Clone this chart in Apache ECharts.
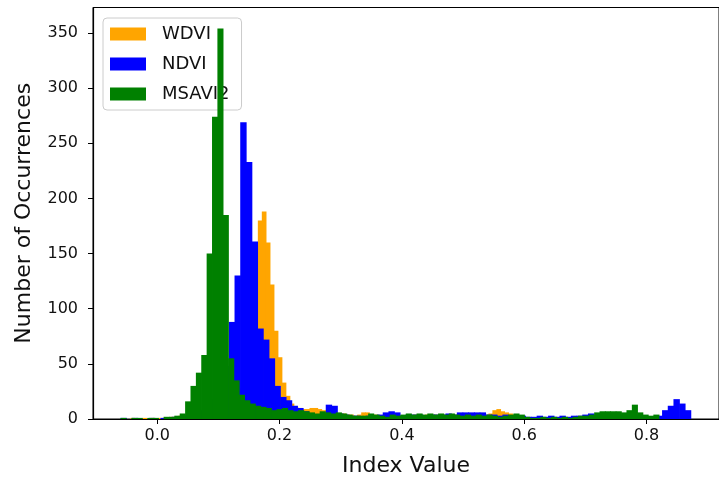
<!DOCTYPE html>
<html>
<head>
<meta charset="utf-8">
<script src="https://cdn.jsdelivr.net/npm/echarts@6/dist/echarts.min.js"></script>
<style>html,body{margin:0;padding:0;background:#fff}#c{width:719px;height:487px}</style>
</head>
<body>
<div id="c"></div>
<script>
// Histogram bin ranges (100 bins each) and counts
const seriesNames = ['WDVI', 'NDVI', 'MSAVI2'];
const seriesColors = ['#FFA500', '#0000FF', '#008000'];

const wdviRange = [-0.05, 0.60];
const wdviCounts = [
  0,1,0,0,1,0,1,0,1,1, 1,2,2,3,3,4,5,5,6,7,
  8,9,10,12,13,15,18,22,28,36, 48,65,120,180,188,160,122,80,56,33,
  21,14,11,10,9,9,10,10,9,8, 7,6,5,4,5,4,4,3,4,6,
  6,4,4,3,3,3,3,2,3,3, 3,3,4,3,3,4,3,4,3,4,
  3,4,4,3,4,4,3,4,4,3, 4,5,8,9,7,6,5,4,3,2
];

const ndviRange = [-0.06, 0.872];
const ndviCounts = [
  1,0,1,0,0,1,0,1,1,2, 2,3,4,6,8,12,18,28,48,88,
  130,269,233,161,82,72,55,30,20,17, 12,10,7,5,4,5,13,12,5,4,
  3,3,2,3,3,4,6,7,6,3, 4,4,4,3,4,4,4,5,4,6,
  6,6,6,6,4,4,3,4,3,3, 3,2,2,3,2,3,2,3,2,3,
  3,4,5,4,5,5,5,4,5,5, 4,3,2,2,3,8,12,18,14,8
];

const msaviRange = [-0.06, 0.82];
const msaviCounts = [
  1,0,1,1,0,1,1,0,2,2, 3,5,16,30,42,58,150,274,354,185,
  55,35,22,17,14,12,11,10,8,9, 10,8,7,8,7,6,5,7,6,5,
  6,5,4,3,3,3,5,4,3,2, 4,3,4,5,4,5,4,5,4,5,
  4,5,4,3,4,3,4,3,4,3, 2,3,4,5,4,2,1,1,2,1,
  2,1,2,1,2,3,3,4,6,7, 7,7,7,6,8,13,6,4,3,4
];

const xTicks = [0.0, 0.2, 0.4, 0.6, 0.8];
const yTicks = [0, 50, 100, 150, 200, 250, 300, 350];

function toBins(range, counts) {
  const w = (range[1] - range[0]) / counts.length;
  return counts.map((c, i) => [range[0] + i * w, range[0] + (i + 1) * w, c]);
}

function renderItem(params, api) {
  const x0 = api.value(0), x1 = api.value(1), y = api.value(2);
  const p0 = api.coord([x0, y]);
  const p1 = api.coord([x1, 0]);
  return {
    type: 'rect',
    shape: { x: p0[0], y: p0[1], width: p1[0] - p0[0] + 0.7, height: p1[1] - p0[1] },
    style: api.style()
  };
}

const allBins = [toBins(wdviRange, wdviCounts), toBins(ndviRange, ndviCounts), toBins(msaviRange, msaviCounts)];
const FONT = 'DejaVu Sans';

const chart = echarts.init(document.getElementById('c'), null, { renderer: 'canvas' });
chart.setOption({
  animation: false,
  backgroundColor: '#fff',
  grid: { left: 93, top: 7.5, width: 632, height: 411.5, show: true, borderColor: '#000', borderWidth: 1, backgroundColor: 'transparent' },
  legend: {
    data: seriesNames,
    orient: 'vertical',
    left: 103, top: 18,
    icon: 'rect',
    itemWidth: 36, itemHeight: 13,
    itemGap: 12,
    padding: [7, 12, 7, 7],
    backgroundColor: 'rgba(255,255,255,0.8)',
    borderColor: '#cccccc', borderWidth: 1, borderRadius: 4,
    itemStyle: { borderWidth: 0 },
    textStyle: { fontFamily: FONT, fontSize: 18, color: '#111', padding: [0, 0, 0, 11], lineHeight: 18 }
  },
  xAxis: {
    type: 'value', min: -0.105, max: 0.9185,
    name: 'Index Value', nameLocation: 'middle', nameGap: 36,
    nameTextStyle: { fontFamily: FONT, fontSize: 22, color: '#111' },
    axisLine: { show: true, onZero: false, lineStyle: { color: '#000', width: 1.2 } },
    axisTick: { show: true, length: 5, lineStyle: { color: '#000' }, customValues: xTicks },
    axisLabel: { fontFamily: FONT, fontSize: 16, color: '#111', margin: 9, customValues: xTicks,
      formatter: v => v.toFixed(1) },
    splitLine: { show: false }
  },
  yAxis: {
    type: 'value', min: 0, max: 373,
    name: 'Number of Occurrences', nameLocation: 'middle', nameGap: 58,
    nameTextStyle: { fontFamily: FONT, fontSize: 22, color: '#111' },
    axisLine: { show: true, onZero: false, lineStyle: { color: '#000', width: 1.2 } },
    axisTick: { show: true, length: 5, lineStyle: { color: '#000' }, customValues: yTicks },
    axisLabel: { fontFamily: FONT, fontSize: 16, color: '#111', margin: 15, customValues: yTicks },
    splitLine: { show: false }
  },
  series: seriesNames.map((name, s) => ({
    type: 'custom',
    name: name,
    renderItem: renderItem,
    encode: { x: [0, 1], y: 2 },
    itemStyle: { color: seriesColors[s], borderWidth: 0 },
    data: allBins[s],
    z: 2 + s
  }))
});
</script>
</body>
</html>
